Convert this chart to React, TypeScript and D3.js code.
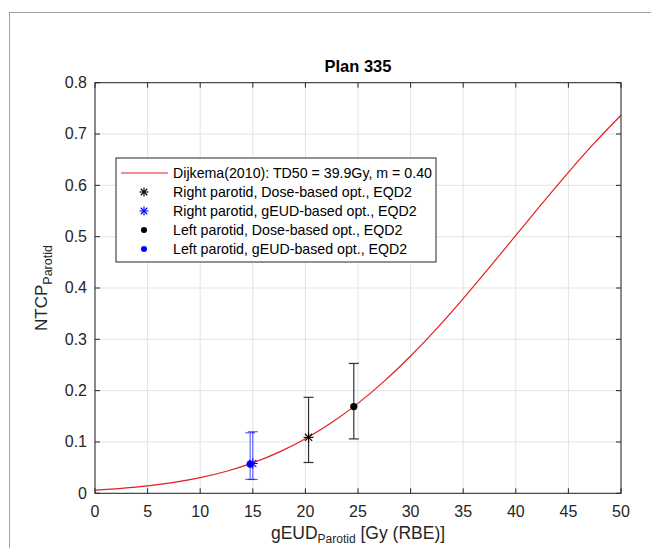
import React from 'react';
import * as d3 from 'd3';

// NTCP curve (every 2.5 Gy)
const curveDose = [0, 2.5, 5, 7.5, 10, 12.5, 15, 17.5, 20, 22.5, 25, 27.5, 30, 32.5, 35, 37.5, 40, 42.5, 45, 47.5, 50];
const curveNtcp = [0.006, 0.0096, 0.0144, 0.0212, 0.0305, 0.043, 0.0594, 0.0802, 0.1062, 0.1378, 0.1752, 0.2186, 0.2676, 0.3214, 0.3794, 0.4403, 0.5025, 0.5647, 0.6254, 0.6831, 0.7366];

// measured points: [right dose, right gEUD, left dose, left gEUD]
const pointLabels = [
  'Right parotid, Dose-based opt., EQD2',
  'Right parotid, gEUD-based opt., EQD2',
  'Left parotid, Dose-based opt., EQD2',
  'Left parotid, gEUD-based opt., EQD2',
];
const pointDose = [20.3, 15.0, 24.6, 14.75];
const pointNtcp = [0.109, 0.058, 0.169, 0.057];
const pointLow = [0.06, 0.027, 0.106, 0.027];
const pointHigh = [0.187, 0.12, 0.253, 0.118];
const pointColor = ['#000000', '#0000ff', '#000000', '#0000ff'];
const pointShape = ['star', 'star', 'dot', 'dot'];

const xTicks = [0, 5, 10, 15, 20, 25, 30, 35, 40, 45, 50];
const yTicks = [0, 0.1, 0.2, 0.3, 0.4, 0.5, 0.6, 0.7, 0.8];

const curveLabel = 'Dijkema(2010): TD50 = 39.9Gy, m = 0.40';

const W = 651;
const H = 548;
const left = 95;
const right = 621;
const top = 82.7;
const bottom = 493.3;

const font = 'Liberation Sans, Arial, sans-serif';

const Star = ({ cx, cy, r, color }: { cx: number; cy: number; r: number; color: string }) => {
  const d = r * 0.72;
  return (
    <g stroke={color} strokeWidth={1.1}>
      <line x1={cx - r} y1={cy} x2={cx + r} y2={cy} />
      <line x1={cx} y1={cy - r} x2={cx} y2={cy + r} />
      <line x1={cx - d} y1={cy - d} x2={cx + d} y2={cy + d} />
      <line x1={cx - d} y1={cy + d} x2={cx + d} y2={cy - d} />
    </g>
  );
};

const App = () => {
  const x = d3.scaleLinear().domain([0, 50]).range([left, right]);
  const y = d3.scaleLinear().domain([0, 0.8]).range([bottom, top]);

  const line = d3
    .line<number>()
    .x((_, i) => x(curveDose[i]))
    .y((d) => y(d))
    .curve(d3.curveMonotoneX);

  const lgX = 116;
  const lgY = 158;
  const lgW = 320;
  const lgH = 104;
  const rowH = 19;

  return (
    <svg
      width={W}
      height={H}
      style={{ position: 'absolute', left: 0, top: 0, background: '#fff' }}
      fontFamily={font}
    >
      {/* figure frame */}
      <rect x={9.5} y={12.5} width={W} height={H} fill="none" stroke="#a0a0a0" />

      {/* grid */}
      <g stroke="#e3e3e3" strokeWidth={1}>
        {xTicks.map((t) => (
          <line key={'gx' + t} x1={x(t)} x2={x(t)} y1={top} y2={bottom} />
        ))}
        {yTicks.map((t) => (
          <line key={'gy' + t} x1={left} x2={right} y1={y(t)} y2={y(t)} />
        ))}
      </g>

      {/* ticks on all sides */}
      <g stroke="#262626" strokeWidth={1}>
        {xTicks.map((t) => (
          <g key={'tx' + t}>
            <line x1={x(t)} x2={x(t)} y1={bottom} y2={bottom - 5} />
            <line x1={x(t)} x2={x(t)} y1={top} y2={top + 5} />
          </g>
        ))}
        {yTicks.map((t) => (
          <g key={'ty' + t}>
            <line x1={left} x2={left + 5} y1={y(t)} y2={y(t)} />
            <line x1={right} x2={right - 5} y1={y(t)} y2={y(t)} />
          </g>
        ))}
      </g>

      {/* curve */}
      <path d={line(curveNtcp) || ''} fill="none" stroke="#e41f1f" strokeWidth={1.2} />

      {/* error bars and markers */}
      {pointDose.map((dv, i) => {
        const cx = x(dv);
        const c = pointColor[i];
        const op = c === '#0000ff' ? 0.6 : 0.8;
        return (
          <g key={'p' + i}>
            <g stroke={c} strokeWidth={1.2} opacity={op}>
              <line x1={cx} x2={cx} y1={y(pointLow[i])} y2={y(pointHigh[i])} />
              <line x1={cx - 5} x2={cx + 5} y1={y(pointLow[i])} y2={y(pointLow[i])} />
              <line x1={cx - 5} x2={cx + 5} y1={y(pointHigh[i])} y2={y(pointHigh[i])} />
            </g>
            {pointShape[i] === 'star' ? (
              <Star cx={cx} cy={y(pointNtcp[i])} r={5} color={c} />
            ) : (
              <circle cx={cx} cy={y(pointNtcp[i])} r={3.6} fill={c} />
            )}
          </g>
        );
      })}

      {/* axes box */}
      <rect x={left} y={top} width={right - left} height={bottom - top} fill="none" stroke="#262626" strokeWidth={1} />

      {/* tick labels */}
      <g fill="#262626" fontSize={16}>
        {xTicks.map((t) => (
          <text key={'lx' + t} x={x(t)} y={bottom + 19} textAnchor="middle" dominantBaseline="middle">
            {t}
          </text>
        ))}
        {yTicks.map((t) => (
          <text key={'ly' + t} x={left - 8} y={y(t) + 1} textAnchor="end" dominantBaseline="middle">
            {t === 0 ? '0' : t.toFixed(1)}
          </text>
        ))}
      </g>

      {/* title */}
      <text x={(left + right) / 2} y={68} textAnchor="middle" dominantBaseline="middle" fontSize={16.5} fontWeight="bold" fill="#000">
        Plan 335
      </text>

      {/* x label */}
      <text x={(left + right) / 2} y={539} textAnchor="middle" fontSize={17.5} fill="#262626">
        gEUD
        <tspan fontSize={12} dy={4}>Parotid</tspan>
        <tspan dy={-4}> [Gy (RBE)]</tspan>
      </text>

      {/* y label */}
      <text
        transform={`translate(47, ${(top + bottom) / 2}) rotate(-90)`}
        textAnchor="middle"
        fontSize={17}
        fill="#262626"
      >
        NTCP
        <tspan fontSize={12.5} dy={5}>Parotid</tspan>
      </text>

      {/* legend */}
      <rect x={lgX} y={lgY} width={lgW} height={lgH} fill="#fff" stroke="#262626" strokeWidth={1} />
      <g fontSize={14.2} fill="#000">
        <line x1={lgX + 5} x2={lgX + 52} y1={lgY + 15} y2={lgY + 15} stroke="#e41f1f" strokeWidth={1.2} />
        <text x={lgX + 57} y={lgY + 16} dominantBaseline="middle">
          {curveLabel}
        </text>
        {pointLabels.map((lab, i) => {
          const cy = lgY + 15 + (i + 1) * rowH;
          return (
            <g key={'lg' + i}>
              {pointShape[i] === 'star' ? (
                <Star cx={lgX + 28} cy={cy} r={4.5} color={pointColor[i]} />
              ) : (
                <circle cx={lgX + 28} cy={cy} r={3} fill={pointColor[i]} />
              )}
              <text x={lgX + 57} y={cy + 1} dominantBaseline="middle">
                {lab}
              </text>
            </g>
          );
        })}
      </g>
    </svg>
  );
};

export default App;
